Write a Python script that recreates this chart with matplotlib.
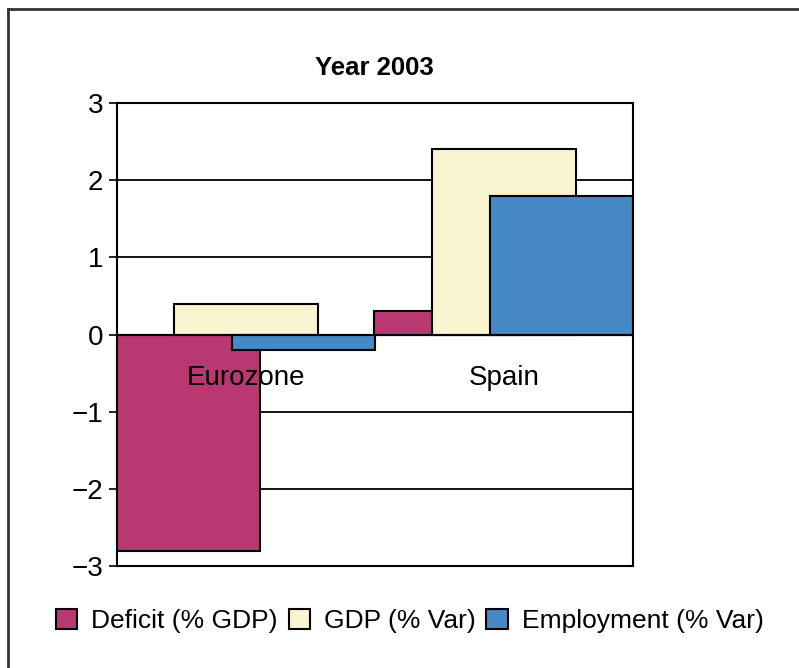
import numpy as np
import matplotlib.pyplot as plt
from matplotlib.lines import Line2D

plt.rcParams['font.family'] = ['Liberation Sans', 'DejaVu Sans']

regions = ["Eurozone", "Spain"]
series = ["Deficit (% GDP)", "GDP (% Var)", "Employment (% Var)"]
deficit = [-2.8, 0.3]
gdp = [0.4, 2.4]
employment = [-0.2, 1.8]
colors = ["#B93871", "#F8F4D0", "#4788C6"]

fig = plt.figure(figsize=(7.99, 6.68), dpi=100)
ax = fig.add_axes([0.1464, 0.1527, 0.6458, 0.6931])

x = np.arange(len(regions))
width = 0.558
offsets = [-0.223, 0.0, 0.223]

for vals, off, col, lab in zip([deficit, gdp, employment], offsets, colors, series):
    ax.bar(x + off, vals, width, color=col, edgecolor="black", linewidth=1.5,
           label=lab, zorder=3)

ax.set_xlim(-0.5, 1.5)
ax.set_ylim(-3, 3)
ax.set_yticks(range(-3, 4))
ax.tick_params(axis="y", direction="out", length=6, width=1.2, labelsize=20, pad=4)
ax.set_xticks([])
for y in [-2, -1, 1, 2]:
    ax.axhline(y, color="black", linewidth=1.3, zorder=1)
ax.axhline(0, color="black", linewidth=1.5, zorder=4)
for s in ax.spines.values():
    s.set_linewidth(1.5)
    s.set_zorder(5)

# category names sit inside the plot, just under the zero line
for xi, name in zip(x, regions):
    ax.text(xi, -0.56, name, ha="center", va="center", fontsize=20, zorder=6)

fig.text(0.469, 0.898, "Year 2003", ha="center", va="center",
         fontsize=18.5, fontweight="bold")

fig.legend(loc="center", bbox_to_anchor=(0.513, 0.0704), ncol=3, frameon=False,
           fontsize=19, handlelength=0.8, handleheight=0.8,
           handletextpad=0.55, columnspacing=0.4)

# outer frame (open at right and bottom, like the cropped original)
fig.add_artist(Line2D([0.0106, 0.0106], [0, 0.9865], color="#333333", linewidth=2,
                      transform=fig.transFigure))
fig.add_artist(Line2D([0.0106, 1.0], [0.9865, 0.9865], color="#333333", linewidth=2,
                      transform=fig.transFigure))

fig.savefig("out.png", dpi=100)
